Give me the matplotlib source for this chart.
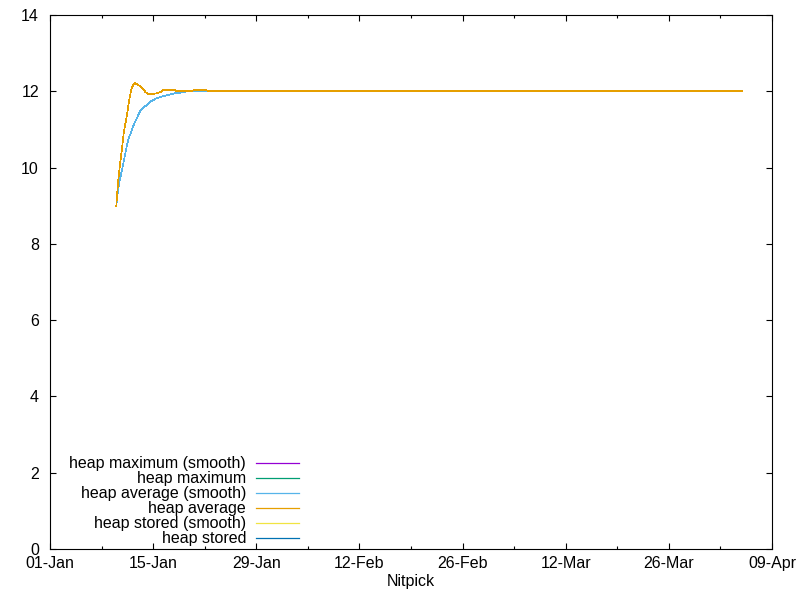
import numpy as np
import pandas as pd
import matplotlib
matplotlib.use("Agg")
import matplotlib.pyplot as plt
import matplotlib.dates as mdates
from matplotlib.lines import Line2D

plt.rcParams['font.family'] = ['Liberation Sans', 'DejaVu Sans']
plt.rcParams['font.size'] = 11.5

start = pd.Timestamp("2023-01-10 00:00")

# hours after start, value
avg_hours = [0, 6, 12, 18, 24, 30, 36, 42, 48, 54, 60, 66, 72, 78, 84, 90, 96,
             102, 108, 114, 120, 132, 144, 150, 192, 198, 246, 250, 294, 300, 2040]
avg_vals = [9.0, 9.65, 10.07, 10.47, 10.9, 11.17, 11.45, 11.77, 12.02, 12.15, 12.22,
            12.19, 12.16, 12.13, 12.08, 12.03, 11.97, 11.94, 11.93, 11.92, 11.93,
            11.95, 11.98, 12.025, 12.025, 12.0, 12.0, 12.025, 12.025, 12.0, 12.0]

avg_smooth_hours = [0, 6, 12, 18, 24, 30, 36, 42, 48, 54, 60, 66, 72, 78, 84, 90,
                    96, 102, 108, 114, 120, 132, 144, 156, 168, 180, 192, 204, 216,
                    228, 2040]
avg_smooth_vals = [9.0, 9.43, 9.7, 9.92, 10.15, 10.4, 10.64, 10.8, 10.92, 11.06,
                   11.18, 11.28, 11.38, 11.48, 11.55, 11.58, 11.62, 11.66, 11.7,
                   11.74, 11.77, 11.82, 11.85, 11.88, 11.9, 11.93, 11.95, 11.96,
                   11.97, 12.0, 12.0]

# series that leave no visible trace in the chart
max_smooth_hours, max_smooth_vals = [], []
max_hours, max_vals = [], []
stored_smooth_hours, stored_smooth_vals = [], []
stored_hours, stored_vals = [], []

labels = ["heap maximum (smooth)", "heap maximum", "heap average (smooth)",
          "heap average", "heap stored (smooth)", "heap stored"]
colors = ["#9400d3", "#009e73", "#56b4e9", "#e69f00", "#f0e442", "#0072b2"]


def to_dates(hours):
    return [start + pd.Timedelta(hours=h) for h in hours]


series = [
    (max_smooth_hours, max_smooth_vals),
    (max_hours, max_vals),
    (avg_smooth_hours, avg_smooth_vals),
    (avg_hours, avg_vals),
    (stored_smooth_hours, stored_smooth_vals),
    (stored_hours, stored_vals),
]

fig = plt.figure(figsize=(8, 6), dpi=100)
ax = fig.add_axes([0.0625, 0.085, 0.9025, 0.89])

for (hrs, vals), c in zip(series, colors):
    ax.plot(to_dates(hrs), vals, color=c, lw=0.5, antialiased=False)

ax.set_xlim(pd.Timestamp("2023-01-01"), pd.Timestamp("2023-04-09"))
ax.set_ylim(0, 14)
ax.set_yticks(np.arange(0, 15, 2))
ax.set_xticks(pd.date_range("2023-01-01", "2023-04-09", freq="14D"))
ax.set_xticks(pd.date_range("2023-01-01", "2023-04-09", freq="7D"), minor=True)
ax.xaxis.set_major_formatter(mdates.DateFormatter("%d-%b"))
ax.tick_params(which="both", direction="in", top=True, right=True, width=0.8)
ax.tick_params(which="major", length=4.5)
ax.tick_params(which="minor", length=2.2)
ax.tick_params(axis="y", pad=8)
ax.tick_params(axis="x", pad=5)
for s in ax.spines.values():
    s.set_linewidth(0.8)
ax.set_xlabel("Nitpick", labelpad=2)

# gnuplot-style key: right-aligned text, sample line to the right
y0, dy = 0.1605, 0.0281
for i, (lab, c) in enumerate(zip(labels, colors)):
    y = y0 - i * dy
    ax.text(0.2715, y, lab, ha="right", va="center", transform=ax.transAxes)
    ax.add_line(Line2D([0.2853, 0.3449], [y, y], color=c, lw=0.9,
                       transform=ax.transAxes))

fig.savefig("out.png", dpi=100)
